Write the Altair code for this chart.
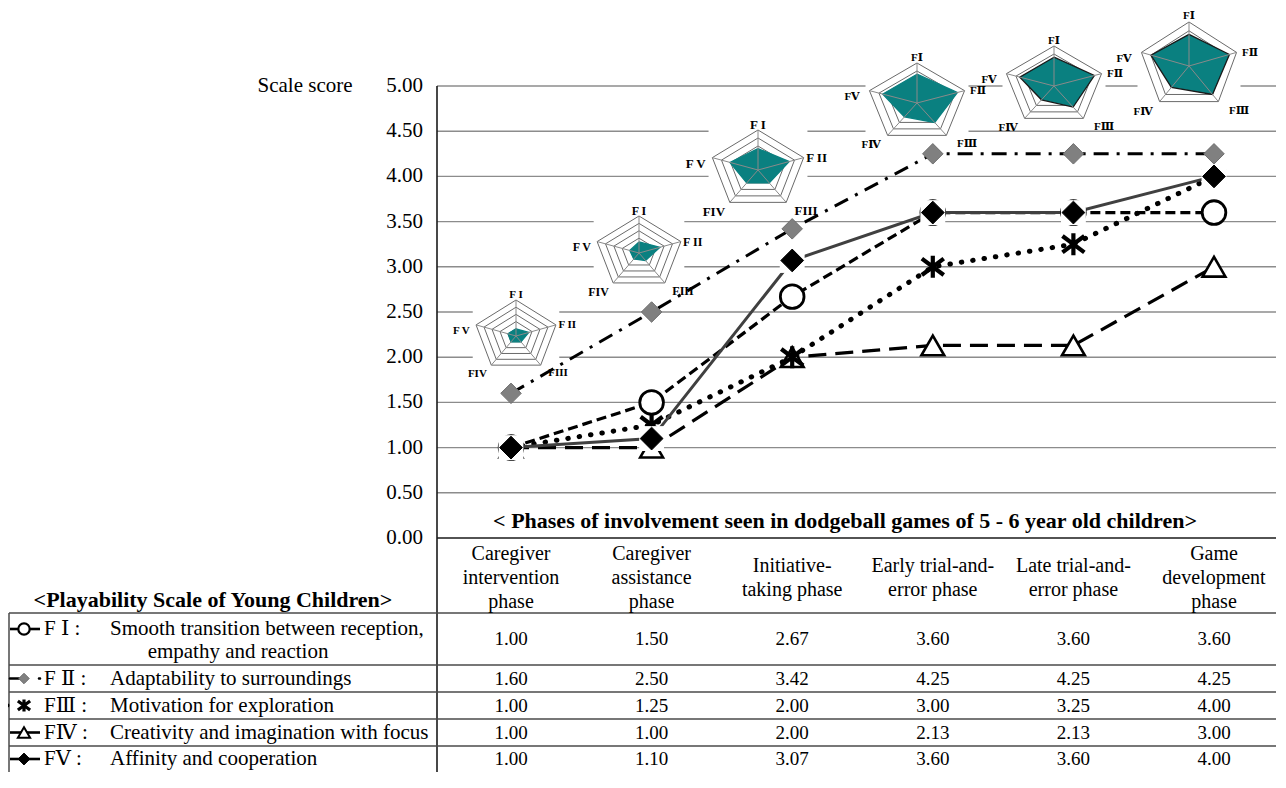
import math
import altair as alt
import pandas as pd

# ---------------- data ----------------
PHASE_LABELS = [
    "Caregiver\nintervention\nphase",
    "Caregiver\nassistance\nphase",
    "Initiative-\ntaking phase",
    "Early trial-and-\nerror phase",
    "Late trial-and-\nerror phase",
    "Game\ndevelopment\nphase",
]
FACTOR_IDS = ["FI", "FII", "FIII", "FIV", "FV"]
SCORES_FI = [1.00, 1.50, 2.67, 3.60, 3.60, 3.60]
SCORES_FII = [1.60, 2.50, 3.42, 4.25, 4.25, 4.25]
SCORES_FIII = [1.00, 1.25, 2.00, 3.00, 3.25, 4.00]
SCORES_FIV = [1.00, 1.00, 2.00, 2.13, 2.13, 3.00]
SCORES_FV = [1.00, 1.10, 3.07, 3.60, 3.60, 4.00]
LEGEND_CODES = ["F Ⅰ :", "F Ⅱ :", "FⅢ :", "FⅣ :", "FⅤ :"]
DESCRIPTIONS = [
    "Smooth transition between reception,",
    "Adaptability to surroundings",
    "Motivation for exploration",
    "Creativity and imagination with focus",
    "Affinity and cooperation",
]
DESCRIPTION_CONT = "empathy and reaction"
Y_TICKS = [0.0, 0.5, 1.0, 1.5, 2.0, 2.5, 3.0, 3.5, 4.0, 4.5, 5.0]
RADAR_LABELS_BOLD = ["F I", "F II", "FIII", "FIV", "F V"]
RADAR_LABELS_ROMAN = ["FⅠ", "FⅡ", "FⅢ", "FⅣ", "FⅤ"]
Y_TITLE = "Scale score"
PHASE_TITLE = "< Phases of involvement seen in dodgeball games of 5 - 6 year old children>"
TABLE_TITLE = "<Playability Scale of Young Children>"
SCORE_MAX = 5.0

SCORES = [SCORES_FI, SCORES_FII, SCORES_FIII, SCORES_FIV, SCORES_FV]

# ---------------- layout (pixels on the page) ----------------
SERIF = "Liberation Serif, Times New Roman, DejaVu Serif, serif"
W, H = 1268, 764
PAGE = 8
RIGHT = PAGE + W
BOTTOM = PAGE + H
X0, KX = 440.7, 140.6      # page x of phase-unit 0, px per phase
Y0, KY = 538.0, 90.4       # page y of score 0, px per score unit
AXIS_X = 437
LEFT_BORDER = 9
ROW_LINES = [613, 665, 692, 719, 746]
ROW_CENTERS = [639, 678.5, 705.5, 732.5, 759]
LEGEND_Y = [629, 678.5, 705.5, 732.5, 759]
HEADER_CENTER = 578
HEADER_LINE_H = 24

RADAR_CX = [516, 639, 758, 917, 1054, 1189]
RADAR_CY = [336, 253, 170, 103, 86, 66]
RADAR_RX = [42, 44, 48, 50, 50, 50]
RADAR_RY = [36, 37, 40, 40, 40, 44]
RADAR_FONT = [11, 12, 13, 11, 11, 11]
RADAR_OUTLINE = ["#0a8080", "#0a8080", "#0a8080", "#0a8080", "#1a1a1a", "#1a1a1a"]
LABEL_FX = [0.0, 1.22, 1.0, -0.92, -1.3]
LABEL_FY = [-1.13, -0.3, 1.02, 1.05, -0.15]


def ux(px):
    return (px - X0) / KX


def uy(py):
    return (Y0 - py) / KY


XS = alt.Scale(domain=[ux(PAGE), ux(RIGHT)], nice=False, zero=False)
YS = alt.Scale(domain=[uy(BOTTOM), uy(PAGE)], nice=False, zero=False)


def X(f="x"):
    return alt.X(f"{f}:Q", scale=XS, axis=None)


def Y(f="y"):
    return alt.Y(f"{f}:Q", scale=YS, axis=None)


layers = []

# gridlines
grid_df = pd.DataFrame({"y": [t for t in Y_TICKS if t > 0]})
grid_df["x"] = ux(AXIS_X)
grid_df["x2"] = ux(RIGHT)
layers.append(alt.Chart(grid_df).mark_rule(color="#8c8c8c", strokeWidth=1.4)
              .encode(x=X(), x2="x2:Q", y=Y()))

# white boxes behind radar glyphs
box_df = pd.DataFrame({
    "x": [ux(c - 1.03 * r) for c, r in zip(RADAR_CX, RADAR_RX)],
    "x2": [ux(c + 1.03 * r) for c, r in zip(RADAR_CX, RADAR_RX)],
    "y": [uy(c - 1.45 * r) for c, r in zip(RADAR_CY, RADAR_RY)],
    "y2": [uy(c + 1.08 * r) for c, r in zip(RADAR_CY, RADAR_RY)],
})
layers.append(alt.Chart(box_df).mark_rect(color="white")
              .encode(x=X(), x2="x2:Q", y=Y(), y2="y2:Q"))

# axis lines
axis_df = pd.DataFrame({
    "x": [ux(AXIS_X), ux(AXIS_X)],
    "x2": [ux(AXIS_X), ux(RIGHT)],
    "y": [SCORE_MAX, 0.0],
    "y2": [uy(BOTTOM), 0.0],
})
layers.append(alt.Chart(axis_df).mark_rule(color="#1a1a1a", strokeWidth=1.6)
              .encode(x=X(), x2="x2:Q", y=Y(), y2="y2:Q"))

# table lines
tl_df = pd.DataFrame({
    "x": [ux(LEFT_BORDER)] * len(ROW_LINES) + [ux(LEFT_BORDER)],
    "x2": [ux(RIGHT)] * len(ROW_LINES) + [ux(LEFT_BORDER)],
    "y": [uy(v) for v in ROW_LINES] + [uy(ROW_LINES[0])],
    "y2": [uy(v) for v in ROW_LINES] + [uy(BOTTOM)],
})
layers.append(alt.Chart(tl_df).mark_rule(color="#4a4a4a", strokeWidth=1.5)
              .encode(x=X(), x2="x2:Q", y=Y(), y2="y2:Q"))

# y tick labels and title
tick_df = pd.DataFrame({"y": Y_TICKS, "label": [f"{t:.2f}" for t in Y_TICKS]})
tick_df["x"] = ux(423)
layers.append(alt.Chart(tick_df).mark_text(font=SERIF, fontSize=21, align="right",
                                           baseline="middle", color="black")
              .encode(x=X(), y=Y(), text="label:N"))
ytitle_df = pd.DataFrame({"x": [ux(305)], "y": [max(Y_TICKS)], "label": [Y_TITLE]})
layers.append(alt.Chart(ytitle_df).mark_text(font=SERIF, fontSize=21, align="center",
                                             baseline="middle", color="black")
              .encode(x=X(), y=Y(), text="label:N"))

# bold titles
titles_df = pd.DataFrame({
    "x": [ux(845), ux(213)],
    "y": [uy(521), uy(600)],
    "label": [PHASE_TITLE, TABLE_TITLE],
})
layers.append(alt.Chart(titles_df).mark_text(font=SERIF, fontSize=22, fontWeight="bold",
                                             align="center", baseline="middle", color="black")
              .encode(x=X(), y=Y(), text="label:N"))

# phase header labels (first line placed so the block is centred)
ph_df = pd.DataFrame({"x": [i + 0.5 for i in range(len(PHASE_LABELS))], "label": PHASE_LABELS})
ph_df["y"] = [uy(HEADER_CENTER - (lab.count("\n")) * HEADER_LINE_H / 2) for lab in PHASE_LABELS]
layers.append(alt.Chart(ph_df).mark_text(font=SERIF, fontSize=20, align="center",
                                         baseline="middle", lineBreak="\n",
                                         lineHeight=HEADER_LINE_H, color="black")
              .encode(x=X(), y=Y(), text="label:N"))

# table values
rows = []
for k, (fid, vals) in enumerate(zip(FACTOR_IDS, SCORES)):
    for i, v in enumerate(vals):
        rows.append({"series": fid, "k": k, "i": i, "x": i + 0.5, "y": v,
                     "ty": uy(ROW_CENTERS[k]), "label": f"{v:.2f}"})
long_df = pd.DataFrame(rows)
layers.append(alt.Chart(long_df).mark_text(font=SERIF, fontSize=19, align="center",
                                           baseline="middle", color="black")
              .encode(x=X(), y=Y("ty"), text="label:N"))

# legend texts
code_df = pd.DataFrame({"x": [ux(44)] * 5, "y": [uy(v) for v in LEGEND_Y], "label": LEGEND_CODES})
layers.append(alt.Chart(code_df).mark_text(font=SERIF, fontSize=21, align="left",
                                           baseline="middle", color="black")
              .encode(x=X(), y=Y(), text="label:N"))
desc_df = pd.DataFrame({"x": [ux(110)] * 5, "y": [uy(v) for v in LEGEND_Y], "label": DESCRIPTIONS})
layers.append(alt.Chart(desc_df).mark_text(font=SERIF, fontSize=21, align="left",
                                           baseline="middle", color="black")
              .encode(x=X(), y=Y(), text="label:N"))
cont_df = pd.DataFrame({"x": [ux(238)], "y": [uy(652)], "label": [DESCRIPTION_CONT]})
layers.append(alt.Chart(cont_df).mark_text(font=SERIF, fontSize=21, align="center",
                                           baseline="middle", color="black")
              .encode(x=X(), y=Y(), text="label:N"))

# ---------------- radar glyphs ----------------
ring_rows, poly_rows, spoke_rows, lab_rows = [], [], [], []
for r in range(len(RADAR_CX)):
    cx, cy, rx, ry = RADAR_CX[r], RADAR_CY[r], RADAR_RX[r], RADAR_RY[r]
    for lvl in range(1, 6):
        for j in range(6):
            th = 2 * math.pi * (j % 5) / 5
            ring_rows.append({"key": f"{r}-{lvl}", "j": j,
                              "x": ux(cx + lvl / 5 * rx * math.sin(th)),
                              "y": uy(cy - lvl / 5 * ry * math.cos(th))})
    for j in range(6):
        th = 2 * math.pi * (j % 5) / 5
        v = SCORES[j % 5][r] / SCORE_MAX
        poly_rows.append({"rid": r, "j": j, "outline": RADAR_OUTLINE[r],
                          "x": ux(cx + v * rx * math.sin(th)),
                          "y": uy(cy - v * ry * math.cos(th))})
    labels = RADAR_LABELS_BOLD if r < 3 else RADAR_LABELS_ROMAN
    for j in range(5):
        th = 2 * math.pi * j / 5
        spoke_rows.append({"x": ux(cx), "y": uy(cy),
                           "x2": ux(cx + rx * math.sin(th)), "y2": uy(cy - ry * math.cos(th))})
        lab_rows.append({"x": ux(cx + LABEL_FX[j] * rx), "y": uy(cy + LABEL_FY[j] * ry),
                         "label": labels[j], "fs": RADAR_FONT[r]})

layers.append(alt.Chart(pd.DataFrame(ring_rows)).mark_line(color="#6a6a6a", strokeWidth=1)
              .encode(x=X(), y=Y(), detail="key:N", order="j:Q"))
layers.append(alt.Chart(pd.DataFrame(poly_rows)).mark_line(fill="#0a8080", strokeWidth=1.3)
              .encode(x=X(), y=Y(), detail="rid:N", order="j:Q",
                      stroke=alt.Stroke("outline:N", scale=None)))
layers.append(alt.Chart(pd.DataFrame(spoke_rows)).mark_rule(color="#8a8a8a", strokeWidth=1)
              .encode(x=X(), x2="x2:Q", y=Y(), y2="y2:Q"))
layers.append(alt.Chart(pd.DataFrame(lab_rows)).mark_text(font=SERIF, fontWeight="bold",
                                                          align="center", baseline="middle",
                                                          color="black")
              .encode(x=X(), y=Y(), text="label:N", size=alt.Size("fs:Q", scale=None)))

# ---------------- series lines and markers ----------------
ASTERISK = "M-1,-0.75L1,0.75M-1,0.75L1,-0.75M0,-1L0,1"
LINE_STYLE = {
    "FI": dict(color="#000000", strokeWidth=3.2, strokeDash=[10, 5]),
    "FII": dict(color="#000000", strokeWidth=3.0, strokeDash=[15, 8, 3, 8]),
    "FIII": dict(color="#000000", strokeWidth=5.0, strokeDash=[0.5, 11], strokeCap="round"),
    "FIV": dict(color="#000000", strokeWidth=3.2, strokeDash=[18, 9]),
    "FV": dict(color="#404040", strokeWidth=3.0),
}
MARKER_STYLE = {
    "FI": dict(shape="circle", size=560, filled=True, fill="white", stroke="black", strokeWidth=2.8),
    "FII": dict(shape="diamond", size=420, filled=True, fill="#808080", stroke="#6e6e6e", strokeWidth=1),
    "FIII": dict(shape=ASTERISK, size=480, filled=False, stroke="black", strokeWidth=4.2),
    "FIV": dict(shape="triangle-up", size=520, filled=True, fill="white", stroke="black", strokeWidth=2.6),
    "FV": dict(shape="diamond", size=520, filled=True, fill="black", stroke="black", strokeWidth=1),
}
LEGEND_LINE = {
    "FI": dict(color="black", strokeWidth=2.6),
    "FII": dict(color="black", strokeWidth=2.6, strokeDash=[17, 12, 1, 20], strokeCap="round"),
    "FIII": dict(color="black", strokeWidth=4, strokeDash=[0.5, 16.5], strokeCap="round"),
    "FIV": dict(color="black", strokeWidth=2.6),
    "FV": dict(color="black", strokeWidth=2.6),
}
LEGEND_MARKER = {
    "FI": dict(shape="circle", size=130, filled=True, fill="white", stroke="black", strokeWidth=2.2),
    "FII": dict(shape="diamond", size=110, filled=True, fill="#808080", stroke="#6e6e6e", strokeWidth=1),
    "FIII": dict(shape=ASTERISK, size=150, filled=False, stroke="black", strokeWidth=3.2),
    "FIV": dict(shape="triangle-up", size=150, filled=True, fill="white", stroke="black", strokeWidth=2),
    "FV": dict(shape="diamond", size=140, filled=True, fill="black", stroke="black", strokeWidth=1),
}

for fid in ["FII", "FIV", "FIII", "FI", "FV"]:
    layers.append(alt.Chart(long_df).transform_filter(alt.datum.series == fid)
                  .mark_line(**LINE_STYLE[fid])
                  .encode(x=X(), y=Y(), order="i:Q"))
for fid in ["FIV", "FIII", "FI", "FII", "FV"]:
    if fid == "FV":
        # white halo square behind the black diamonds (as in the reference)
        layers.append(alt.Chart(long_df).transform_filter(alt.datum.series == fid)
                      .mark_point(shape="square", size=620, filled=True, fill="white",
                                  opacity=1, strokeWidth=0)
                      .encode(x=X(), y=Y()))
    layers.append(alt.Chart(long_df).transform_filter(alt.datum.series == fid)
                  .mark_point(opacity=1, **MARKER_STYLE[fid])
                  .encode(x=X(), y=Y()))

# legend symbols
for k, fid in enumerate(FACTOR_IDS):
    x_a, x_b = (7, 41) if fid == "FIII" else (10, 40)
    seg = pd.DataFrame({"x": [ux(x_a)], "x2": [ux(x_b)], "y": [uy(LEGEND_Y[k])]})
    layers.append(alt.Chart(seg).mark_rule(**LEGEND_LINE[fid])
                  .encode(x=X(), x2="x2:Q", y=Y()))
    pt = pd.DataFrame({"x": [ux(24)], "y": [uy(LEGEND_Y[k])]})
    layers.append(alt.Chart(pt).mark_point(opacity=1, **LEGEND_MARKER[fid])
                  .encode(x=X(), y=Y()))

chart = (alt.layer(*layers)
         .properties(width=W, height=H, padding=0, background="white",
                     autosize=alt.AutoSizeParams(type="none"))
         .configure_view(stroke=None))

chart.save("out.html", embed_options={"renderer": "svg", "actions": False})
